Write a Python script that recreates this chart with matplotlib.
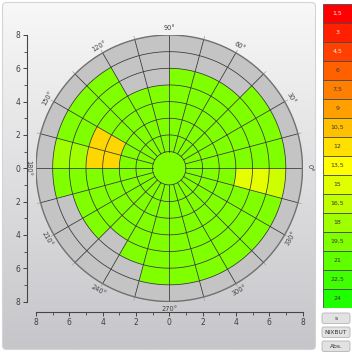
import numpy as np
import matplotlib
matplotlib.use("Agg")
import matplotlib.pyplot as plt
from matplotlib.patches import Wedge, Circle, FancyBboxPatch
from matplotlib.colors import LinearSegmentedColormap

# ---------------- data ----------------
legend_values = [1.5, 3, 4.5, 6, 7.5, 9, 10.5, 12, 13.5, 15, 16.5, 18, 19.5, 21, 22.5, 24]
legend_labels = ["1,5", "3", "4,5", "6", "7,5", "9", "10,5", "12", "13,5", "15",
                 "16,5", "18", "19,5", "21", "22,5", "24"]
legend_colors = ["#FF0000", "#FF2000", "#FF4000", "#FF6000", "#FF8000", "#FFA000",
                 "#FFC000", "#FFE000", "#FFFF00", "#E0FF00", "#C0FF00", "#A0FF00",
                 "#80FF00", "#60FF00", "#40FF00", "#20FF00"]
light_text = ["1,5", "3", "4,5"]

sector_starts = list(range(0, 360, 15))
sector_extent = [7, 7, 7, 6, 6, 6, 5, 5, 7, 7, 7, 7,
                 7, 6, 6, 5, 6, 7, 7, 7, 7, 7, 7, 7]
default_value = 19.5
center_value = 19.5
special_sectors = [10, 10, 11, 11, 11, 11, 23, 23, 23]
special_rings = [3, 4, 3, 4, 5, 6, 4, 5, 6]
special_values = [11.6, 11.6, 11.6, 11.6, 18.0, 18.0, 14.7, 14.7, 15.9]

angle_labels = list(range(0, 360, 30))
axis_ticks = list(range(-8, 9, 2))
buttons = ["s", "NIXBUT", "Abs."]

# ---------------- figure ----------------
W = H = 352
fig = plt.figure(figsize=(W / 100, H / 100), dpi=100)
fig.patch.set_facecolor("white")

# background / panel layer in pixel coordinates
bg = fig.add_axes([0, 0, 1, 1])
bg.set_xlim(0, W)
bg.set_ylim(H, 0)
bg.axis("off")
grad = np.linspace(0, 1, 256)[:, None]
top = np.array([248, 248, 248]) / 255
bot = np.array([198, 198, 202]) / 255
img = top[None, None, :] * (1 - grad[..., None]) + bot[None, None, :] * grad[..., None]
panel = FancyBboxPatch((2.5, 2.5), 313, 347, boxstyle="round,pad=0,rounding_size=4",
                       fc="none", ec="#D4D4D4", lw=0.8, zorder=2)
bg.add_patch(panel)
im = bg.imshow(img, extent=[2.5, 315.5, 349.5, 2.5], aspect="auto", zorder=1)
im.set_clip_path(panel)

# buttons
btn_y = [313, 327, 341]
for label, y in zip(buttons, btn_y):
    b = FancyBboxPatch((322, y), 28, 10.5, boxstyle="round,pad=0,rounding_size=2",
                       fc="#E2E2E2", ec="#B4B4B4", lw=0.6, zorder=2)
    bg.add_patch(b)
    bg.text(336, y + 5.4, label, ha="center", va="center", fontsize=4.3,
            color="#333333", zorder=3)

# colour map from legend
norm_pos = [(v - legend_values[0]) / (legend_values[-1] - legend_values[0]) for v in legend_values]
cmap = LinearSegmentedColormap.from_list("leg", list(zip(norm_pos, legend_colors)))
def col(v):
    return cmap((v - legend_values[0]) / (legend_values[-1] - legend_values[0]))

# ---------------- main axes ----------------
ax = fig.add_axes([36 / W, (H - 301.5) / H, 266.5 / W, 266.5 / H])
ax.set_xlim(-8, 8)
ax.set_ylim(-8, 8)
ax.patch.set_visible(False)
for s in ["top", "right"]:
    ax.spines[s].set_visible(False)
ax.spines["left"].set_position(("outward", 6.5))
ax.spines["bottom"].set_position(("outward", 7.2))
for s in ["left", "bottom"]:
    ax.spines[s].set_color("#454545")
    ax.spines[s].set_linewidth(0.8)
ax.set_xticks(axis_ticks)
ax.set_yticks(axis_ticks)
ax.set_xticklabels([str(abs(t)) for t in axis_ticks])
ax.set_yticklabels([str(abs(t)) for t in axis_ticks])
ax.set_xticks(range(-7, 8, 2), minor=True)
ax.set_yticks(range(-7, 8, 2), minor=True)
ax.tick_params(which="major", direction="out", length=3, width=0.7, labelsize=5.5,
               colors="#404040", pad=2)
ax.tick_params(which="minor", direction="out", length=2, width=0.6, colors="#404040")

# grey disc
ax.add_patch(Circle((0, 0), 8, fc="#C4C4C4", ec="none", zorder=1))

# data cells
value_grid = {}
for k, ext in enumerate(sector_extent):
    for ring in range(1, ext):
        value_grid[(k, ring)] = default_value
for k, ring, v in zip(special_sectors, special_rings, special_values):
    value_grid[(k, ring)] = v
for (k, ring), v in value_grid.items():
    th = sector_starts[k]
    ax.add_patch(Wedge((0, 0), ring + 1, th, th + 15, width=1, fc=col(v),
                       ec="none", zorder=2))
ax.add_patch(Circle((0, 0), 1, fc=col(center_value), ec="none", zorder=2))

# grid
gc = "#353535"
tt = np.linspace(0, 2 * np.pi, 400)
for r in range(1, 8):
    ax.plot(r * np.cos(tt), r * np.sin(tt), color=gc, lw=0.55, zorder=3)
for th in sector_starts:
    a = np.deg2rad(th)
    ax.plot([np.cos(a), 8 * np.cos(a)], [np.sin(a), 8 * np.sin(a)], color=gc, lw=0.55, zorder=3)
    ax.plot([8 * np.cos(a), 8.2 * np.cos(a)], [8 * np.sin(a), 8.2 * np.sin(a)],
            color="#A0A0A0", lw=0.5, zorder=3)
ax.plot(8 * np.cos(tt), 8 * np.sin(tt), color="#707070", lw=1.0, zorder=4)

# angle labels
for a in angle_labels:
    rad = np.deg2rad(a)
    ax.text(8.45 * np.cos(rad), 8.45 * np.sin(rad), f"{a}°", ha="center", va="center",
            rotation=(a % 180) - 90, rotation_mode="anchor", fontsize=4.8,
            color="#404040", zorder=5)

# ---------------- legend column ----------------
lax = fig.add_axes([323 / W, (H - 308) / H, 28.5 / W, 304 / H])
lax.set_xlim(0, 1)
lax.set_ylim(len(legend_values), 0)
lax.axis("off")
ypos = np.arange(len(legend_values)) + 0.5
lax.barh(ypos, [1] * len(legend_values), height=1, left=0, color=legend_colors,
         edgecolor="#4A4A4A", linewidth=0.6)
for y, lab in zip(ypos, legend_labels):
    lax.text(0.5, y, lab, ha="center", va="center", fontsize=4.5,
             color="#FFE8E0" if lab in light_text else "#3A3A3A")

fig.savefig("out.png", dpi=100)
